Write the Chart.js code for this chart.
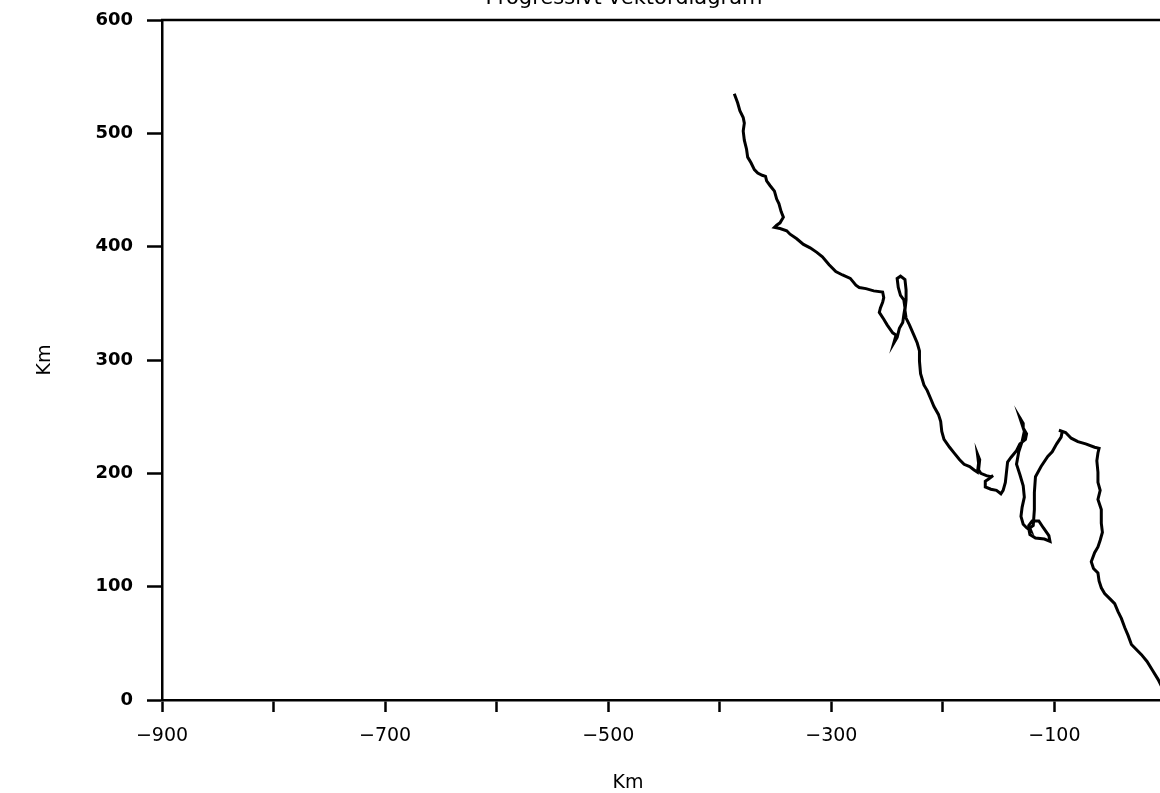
<!DOCTYPE html>
<html>
<head>
<meta charset="utf-8">
<title>Progressivt vektordiagram</title>
<script src="https://cdn.jsdelivr.net/npm/chart.js@4/dist/chart.umd.min.js"></script>
<style>
    html, body { margin: 0; padding: 0; background: #fff; overflow: hidden; }
    #wrap { position: relative; width: 1160px; height: 793px; overflow: hidden; }
    #vektor { position: absolute; left: 0; top: 0; }
</style>
</head>
<body>
<div id="wrap">
    <canvas id="vektor" width="1200" height="793"></canvas>
</div>
<script>
// progressive vector track, km east (x) / km north (y)
const xKm = [
    -387, -384, -382, -379, -378, -379, -378, -376, -375, -372, -369, -366, -362, -359, -358, -355,
    -351, -349, -347, -345, -343, -346, -349, -351, -346, -340, -337, -331, -325, -319, -313, -308,
    -302, -296, -290, -283, -278, -275, -269, -262, -254, -253, -254, -256, -257, -253, -250, -245,
    -242, -244, -241, -239, -236, -235, -234, -235, -238, -240, -241, -238, -234, -233, -233, -234,
    -233, -230, -226, -223, -221, -221, -220, -217, -214, -211, -208, -204, -202, -201, -199, -194,
    -190, -185, -181, -176, -172, -169, -168, -169, -167, -168, -166, -161, -157, -155, -159, -162,
    -162, -157, -152, -148, -146, -144, -143, -142, -139, -134, -131, -126, -125, -128, -128, -131,
    -127, -129, -132, -134, -131, -128, -127, -129, -130, -128, -125, -121, -123, -120, -114, -110,
    -105, -104, -109, -117, -122, -123, -119, -118, -118, -117, -112, -106, -102, -98, -94, -93,
    -96, -90, -85, -79, -72, -64, -60, -61, -62, -61, -61, -59, -61, -58, -58, -57,
    -59, -61, -64, -67, -65, -61, -60, -58, -55, -50, -46, -43, -40, -37, -34, -31,
    -27, -22, -17, -12, -7, -4, 0
];
const yKm = [
    535, 527, 520, 514, 509, 502, 494, 486, 479, 474, 468, 465, 463, 462, 458, 454,
    449, 442, 438, 431, 426, 421, 419, 417, 416, 414, 411, 407, 402, 399, 395, 391,
    384, 378, 375, 372, 366, 364, 363, 361, 360, 355, 351, 346, 342, 336, 331, 324,
    322, 315, 320, 328, 333, 340, 346, 353, 357, 364, 372, 374, 371, 362, 353, 344,
    337, 331, 322, 315, 308, 299, 288, 278, 273, 266, 259, 252, 246, 237, 230, 223,
    218, 212, 208, 206, 203, 201, 209, 217, 212, 203, 200, 198, 197, 198, 195, 193,
    188, 186, 185, 182, 185, 192, 201, 210, 214, 220, 226, 230, 235, 240, 244, 249,
    237, 228, 219, 208, 199, 189, 179, 170, 162, 155, 152, 149, 154, 158, 158, 152,
    145, 140, 142, 143, 146, 151, 154, 168, 183, 197, 206, 215, 219, 226, 232, 237,
    238, 236, 231, 228, 226, 223, 222, 218, 211, 201, 192, 185, 177, 168, 156, 148,
    141, 135, 130, 122, 116, 112, 105, 99, 94, 89, 85, 78, 72, 64, 57, 49,
    45, 40, 34, 26, 18, 12, 0
];
const xTicks = [-900, -800, -700, -600, -500, -400, -300, -200, -100, 0];
const yTicks = [0, 100, 200, 300, 400, 500, 600];

const chartTitle = 'Progressivt vektordiagram';
const axisTitle = 'Km';

const FONT = '"DejaVu Sans", "Liberation Sans", sans-serif';
Chart.defaults.font.family = FONT;
Chart.defaults.color = '#000';

// frame lines plus the page texts, which sit off the plot centre in the original
const pagePlugin = {
    id: 'page',
    afterDraw(chart) {
        const { ctx, chartArea } = chart;
        ctx.save();
        ctx.strokeStyle = '#000';
        ctx.lineWidth = 2.5;
        ctx.beginPath();
        ctx.moveTo(chartArea.left - 1, chartArea.top);
        ctx.lineTo(chartArea.right, chartArea.top);
        ctx.lineTo(chartArea.right, chartArea.bottom);
        ctx.stroke();

        ctx.fillStyle = '#000';
        ctx.textAlign = 'center';
        ctx.textBaseline = 'alphabetic';
        ctx.font = '21px ' + FONT;
        ctx.fillText(chartTitle, 624, 4);

        ctx.textBaseline = 'middle';
        ctx.font = '19px ' + FONT;
        ctx.fillText(axisTitle, 628, 783);
        ctx.restore();
    }
};

const minus = v => (v < 0 ? '\u2212' + Math.abs(v) : String(v));

new Chart(document.getElementById('vektor'), {
    type: 'line',
    data: {
        datasets: [{
            data: xKm.map((x, i) => ({ x: x, y: yKm[i] })),
            borderColor: '#000',
            borderWidth: 3,
            pointRadius: 0,
            tension: 0,
            fill: false
        }]
    },
    options: {
        responsive: false,
        animation: false,
        layout: { padding: { left: 0, right: 34, top: 20, bottom: 0 } },
        plugins: {
            legend: { display: false },
            tooltip: { enabled: false },
            title: { display: false }
        },
        scales: {
            x: {
                type: 'linear',
                min: -900,
                max: 0,
                afterBuildTicks: s => { s.ticks = xTicks.map(v => ({ value: v })); },
                afterFit: s => { s.height = 93; s.paddingLeft = 0; s.paddingRight = 0; },
                ticks: {
                    autoSkip: false,
                    maxRotation: 0,
                    padding: 13,
                    font: { size: 19 },
                    callback: v => (Math.abs(v / 100) % 2 === 1 ? minus(v) : '')
                },
                grid: { drawOnChartArea: false, tickLength: 12, tickWidth: 2.5, tickColor: '#000' },
                border: { display: true, color: '#000', width: 2.5 }
            },
            y: {
                type: 'linear',
                min: 0,
                max: 600,
                afterBuildTicks: s => { s.ticks = yTicks.map(v => ({ value: v })); },
                afterFit: s => { s.width = 162; s.paddingTop = 0; s.paddingBottom = 0; },
                ticks: {
                    padding: 14,
                    font: { size: 18, weight: 'bold' },
                    callback: v => minus(v)
                },
                grid: { drawOnChartArea: false, tickLength: 15, tickWidth: 2.5, tickColor: '#000' },
                border: { display: true, color: '#000', width: 2.5 },
                title: { display: true, text: axisTitle, font: { size: 19 }, padding: { top: 34, bottom: 0 } }
            }
        }
    },
    plugins: [pagePlugin]
});
</script>
</body>
</html>
